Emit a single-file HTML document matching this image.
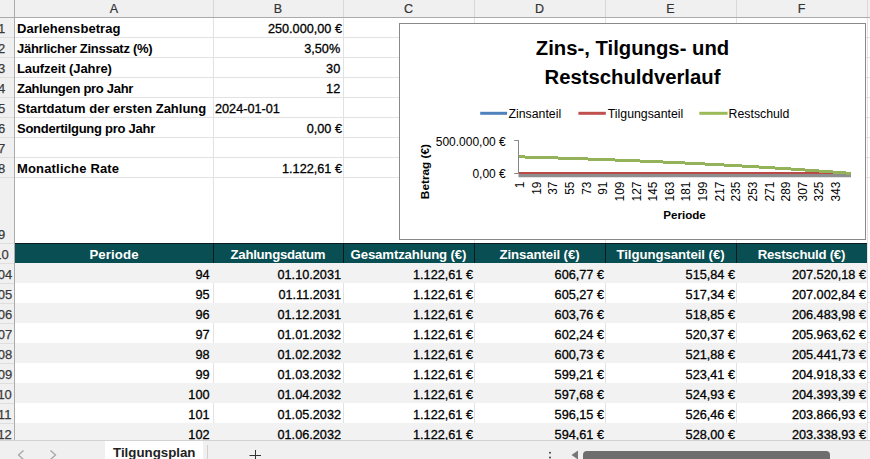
<!DOCTYPE html>
<html lang="de"><head><meta charset="utf-8"><title>Tilgungsplan</title>
<style>
*{margin:0;padding:0;box-sizing:border-box}
html,body{width:870px;height:459px;overflow:hidden;background:#fff}
body{position:relative;font-family:"Liberation Sans", sans-serif;font-size:13px;color:#000}
.a{position:absolute}
.hl{position:absolute;height:1px}
.vl{position:absolute;width:1px}
.c{position:absolute;height:20px;line-height:24px;white-space:nowrap;overflow:hidden}
.r{text-align:right;padding-right:1px}
.n{-webkit-text-stroke:0.3px #000;font-size:12.7px}
.l{text-align:left;padding-left:2px}
.b{font-weight:bold}
.th{position:absolute;top:244px;height:19px;line-height:21.5px;color:#fff;font-weight:bold;font-size:13.2px;text-align:center;white-space:nowrap}
.colh{position:absolute;top:0;height:17px;line-height:18px;text-align:center;color:#333;font-size:12.5px;-webkit-text-stroke:0.2px #333}
.rowh{position:absolute;left:-10px;width:23px;height:20px;line-height:23px;text-align:center;color:#3a3a3a;font-size:13px;-webkit-text-stroke:0.25px #3a3a3a}
</style></head>
<body>
<div class="hl" style="left:15px;width:860px;top:37px;background:#e2e2e2"></div>
<div class="hl" style="left:15px;width:860px;top:57px;background:#e2e2e2"></div>
<div class="hl" style="left:15px;width:860px;top:77px;background:#e2e2e2"></div>
<div class="hl" style="left:15px;width:860px;top:97px;background:#e2e2e2"></div>
<div class="hl" style="left:15px;width:860px;top:117px;background:#e2e2e2"></div>
<div class="hl" style="left:15px;width:860px;top:137px;background:#e2e2e2"></div>
<div class="hl" style="left:15px;width:860px;top:157px;background:#e2e2e2"></div>
<div class="hl" style="left:15px;width:860px;top:177px;background:#e2e2e2"></div>
<div class="vl" style="left:213px;top:18px;height:225px;background:#e2e2e2"></div>
<div class="vl" style="left:343px;top:18px;height:225px;background:#e2e2e2"></div>
<div class="vl" style="left:474px;top:18px;height:225px;background:#e2e2e2"></div>
<div class="vl" style="left:605px;top:18px;height:225px;background:#e2e2e2"></div>
<div class="vl" style="left:736px;top:18px;height:225px;background:#e2e2e2"></div>
<div class="vl" style="left:867px;top:18px;height:225px;background:#e2e2e2"></div>
<div class="a" style="left:15px;top:263px;width:852px;height:20px;background:#f2f2f2"></div>
<div class="vl" style="left:213px;top:283px;height:20px;background:#e2e2e2"></div>
<div class="vl" style="left:343px;top:283px;height:20px;background:#e2e2e2"></div>
<div class="vl" style="left:474px;top:283px;height:20px;background:#e2e2e2"></div>
<div class="vl" style="left:605px;top:283px;height:20px;background:#e2e2e2"></div>
<div class="vl" style="left:736px;top:283px;height:20px;background:#e2e2e2"></div>
<div class="vl" style="left:867px;top:283px;height:20px;background:#e2e2e2"></div>
<div class="hl" style="left:867px;width:10px;top:302px;background:#e2e2e2"></div>
<div class="a" style="left:15px;top:303px;width:852px;height:20px;background:#f2f2f2"></div>
<div class="vl" style="left:213px;top:323px;height:20px;background:#e2e2e2"></div>
<div class="vl" style="left:343px;top:323px;height:20px;background:#e2e2e2"></div>
<div class="vl" style="left:474px;top:323px;height:20px;background:#e2e2e2"></div>
<div class="vl" style="left:605px;top:323px;height:20px;background:#e2e2e2"></div>
<div class="vl" style="left:736px;top:323px;height:20px;background:#e2e2e2"></div>
<div class="vl" style="left:867px;top:323px;height:20px;background:#e2e2e2"></div>
<div class="hl" style="left:867px;width:10px;top:342px;background:#e2e2e2"></div>
<div class="a" style="left:15px;top:343px;width:852px;height:20px;background:#f2f2f2"></div>
<div class="vl" style="left:213px;top:363px;height:20px;background:#e2e2e2"></div>
<div class="vl" style="left:343px;top:363px;height:20px;background:#e2e2e2"></div>
<div class="vl" style="left:474px;top:363px;height:20px;background:#e2e2e2"></div>
<div class="vl" style="left:605px;top:363px;height:20px;background:#e2e2e2"></div>
<div class="vl" style="left:736px;top:363px;height:20px;background:#e2e2e2"></div>
<div class="vl" style="left:867px;top:363px;height:20px;background:#e2e2e2"></div>
<div class="hl" style="left:867px;width:10px;top:382px;background:#e2e2e2"></div>
<div class="a" style="left:15px;top:383px;width:852px;height:20px;background:#f2f2f2"></div>
<div class="vl" style="left:213px;top:403px;height:20px;background:#e2e2e2"></div>
<div class="vl" style="left:343px;top:403px;height:20px;background:#e2e2e2"></div>
<div class="vl" style="left:474px;top:403px;height:20px;background:#e2e2e2"></div>
<div class="vl" style="left:605px;top:403px;height:20px;background:#e2e2e2"></div>
<div class="vl" style="left:736px;top:403px;height:20px;background:#e2e2e2"></div>
<div class="vl" style="left:867px;top:403px;height:20px;background:#e2e2e2"></div>
<div class="hl" style="left:867px;width:10px;top:422px;background:#e2e2e2"></div>
<div class="a" style="left:15px;top:423px;width:852px;height:20px;background:#f2f2f2"></div>
<div class="vl" style="left:867px;top:18px;height:441px;background:#e2e2e2"></div>
<div class="a" style="left:0;top:0;width:870px;height:17px;background:#f0f0f0"></div>
<div class="hl" style="left:0;width:870px;top:17px;background:#ababab"></div>
<div class="vl" style="left:213px;top:0;height:17px;background:#d8d8d8"></div>
<div class="vl" style="left:343px;top:0;height:17px;background:#d8d8d8"></div>
<div class="vl" style="left:474px;top:0;height:17px;background:#d8d8d8"></div>
<div class="vl" style="left:605px;top:0;height:17px;background:#d8d8d8"></div>
<div class="vl" style="left:736px;top:0;height:17px;background:#d8d8d8"></div>
<div class="vl" style="left:867px;top:0;height:17px;background:#d8d8d8"></div>
<div class="colh" style="left:15px;width:198px">A</div>
<div class="colh" style="left:213px;width:130px">B</div>
<div class="colh" style="left:343px;width:131px">C</div>
<div class="colh" style="left:474px;width:131px">D</div>
<div class="colh" style="left:605px;width:131px">E</div>
<div class="colh" style="left:736px;width:131px">F</div>
<div class="a" style="left:0;top:18px;width:14px;height:441px;background:#f0f0f0"></div>
<div class="vl" style="left:14px;top:0;height:459px;background:#ababab"></div>
<div class="rowh" style="top:17px">1</div>
<div class="hl" style="left:0;width:14px;top:37px;background:#dedede"></div>
<div class="rowh" style="top:37px">2</div>
<div class="hl" style="left:0;width:14px;top:57px;background:#dedede"></div>
<div class="rowh" style="top:57px">3</div>
<div class="hl" style="left:0;width:14px;top:77px;background:#dedede"></div>
<div class="rowh" style="top:77px">4</div>
<div class="hl" style="left:0;width:14px;top:97px;background:#dedede"></div>
<div class="rowh" style="top:97px">5</div>
<div class="hl" style="left:0;width:14px;top:117px;background:#dedede"></div>
<div class="rowh" style="top:117px">6</div>
<div class="hl" style="left:0;width:14px;top:137px;background:#dedede"></div>
<div class="rowh" style="top:137px">7</div>
<div class="hl" style="left:0;width:14px;top:157px;background:#dedede"></div>
<div class="rowh" style="top:157px">8</div>
<div class="hl" style="left:0;width:14px;top:177px;background:#dedede"></div>
<div class="rowh" style="top:223px">9</div>
<div class="hl" style="left:0;width:14px;top:243px;background:#dedede"></div>
<div class="rowh" style="top:243px">10</div>
<div class="hl" style="left:0;width:14px;top:263px;background:#dedede"></div>
<div class="rowh" style="top:263px">104</div>
<div class="hl" style="left:0;width:14px;top:283px;background:#dedede"></div>
<div class="rowh" style="top:283px">105</div>
<div class="hl" style="left:0;width:14px;top:303px;background:#dedede"></div>
<div class="rowh" style="top:303px">106</div>
<div class="hl" style="left:0;width:14px;top:323px;background:#dedede"></div>
<div class="rowh" style="top:323px">107</div>
<div class="hl" style="left:0;width:14px;top:343px;background:#dedede"></div>
<div class="rowh" style="top:343px">108</div>
<div class="hl" style="left:0;width:14px;top:363px;background:#dedede"></div>
<div class="rowh" style="top:363px">109</div>
<div class="hl" style="left:0;width:14px;top:383px;background:#dedede"></div>
<div class="rowh" style="top:383px">110</div>
<div class="hl" style="left:0;width:14px;top:403px;background:#dedede"></div>
<div class="rowh" style="top:403px">111</div>
<div class="hl" style="left:0;width:14px;top:423px;background:#dedede"></div>
<div class="rowh" style="top:423px">112</div>
<div class="hl" style="left:0;width:14px;top:443px;background:#dedede"></div>
<div class="c l b" style="left:15px;top:17px;width:198px;letter-spacing:0.06px">Darlehensbetrag</div>
<div class="c r n" style="left:213px;top:17px;width:130px">250.000,00 €</div>
<div class="c l b" style="left:15px;top:37px;width:198px;letter-spacing:-0.27px">Jährlicher Zinssatz (%)</div>
<div class="c r n" style="left:213px;top:37px;width:130px;padding-right:2.8px">3,50%</div>
<div class="c l b" style="left:15px;top:57px;width:198px;letter-spacing:-0.08px">Laufzeit (Jahre)</div>
<div class="c r n" style="left:213px;top:57px;width:130px;padding-right:2.8px">30</div>
<div class="c l b" style="left:15px;top:77px;width:198px;letter-spacing:-0.29px">Zahlungen pro Jahr</div>
<div class="c r n" style="left:213px;top:77px;width:130px;padding-right:2.8px">12</div>
<div class="c l b" style="left:15px;top:97px;width:198px;letter-spacing:0px">Startdatum der ersten Zahlung</div>
<div class="c l n" style="left:213px;top:97px;width:130px">2024-01-01</div>
<div class="c l b" style="left:15px;top:117px;width:198px;letter-spacing:-0.26px">Sondertilgung pro Jahr</div>
<div class="c r n" style="left:213px;top:117px;width:130px">0,00 €</div>
<div class="c l b" style="left:15px;top:157px;width:198px;letter-spacing:0.17px">Monatliche Rate</div>
<div class="c r n" style="left:213px;top:157px;width:130px">1.122,61 €</div>
<div class="a" style="left:15px;top:243px;width:852px;height:20px;background:#084e52"></div>
<div class="hl" style="left:15px;width:852px;top:243px;background:#0a1a1c"></div>
<div class="vl" style="left:213px;top:243px;height:20px;background:#0a1a1c"></div>
<div class="vl" style="left:343px;top:243px;height:20px;background:#0a1a1c"></div>
<div class="vl" style="left:474px;top:243px;height:20px;background:#0a1a1c"></div>
<div class="vl" style="left:605px;top:243px;height:20px;background:#0a1a1c"></div>
<div class="vl" style="left:736px;top:243px;height:20px;background:#0a1a1c"></div>
<div class="th" style="left:15px;width:198px;letter-spacing:0.13px;text-indent:0.13px">Periode</div>
<div class="th" style="left:213px;width:130px;letter-spacing:-0.27px;text-indent:-0.27px">Zahlungsdatum</div>
<div class="th" style="left:343px;width:131px;letter-spacing:-0.13px;text-indent:-0.13px">Gesamtzahlung (€)</div>
<div class="th" style="left:474px;width:131px;letter-spacing:-0.1px;text-indent:-0.1px">Zinsanteil (€)</div>
<div class="th" style="left:605px;width:131px;letter-spacing:-0.04px;text-indent:-0.04px">Tilgungsanteil (€)</div>
<div class="th" style="left:736px;width:131px;letter-spacing:-0.25px;text-indent:-0.25px">Restschuld (€)</div>
<div class="c r n" style="left:15px;top:263px;width:198px ;padding-right:3.5px">94</div>
<div class="c r n" style="left:213px;top:263px;width:130px;padding-right:2px">01.10.2031</div>
<div class="c r n" style="left:343px;top:263px;width:131px">1.122,61 €</div>
<div class="c r n" style="left:474px;top:263px;width:131px">606,77 €</div>
<div class="c r n" style="left:605px;top:263px;width:131px">515,84 €</div>
<div class="c r n" style="left:736px;top:263px;width:131px">207.520,18 €</div>
<div class="c r n" style="left:15px;top:283px;width:198px ;padding-right:3.5px">95</div>
<div class="c r n" style="left:213px;top:283px;width:130px;padding-right:2px">01.11.2031</div>
<div class="c r n" style="left:343px;top:283px;width:131px">1.122,61 €</div>
<div class="c r n" style="left:474px;top:283px;width:131px">605,27 €</div>
<div class="c r n" style="left:605px;top:283px;width:131px">517,34 €</div>
<div class="c r n" style="left:736px;top:283px;width:131px">207.002,84 €</div>
<div class="c r n" style="left:15px;top:303px;width:198px ;padding-right:3.5px">96</div>
<div class="c r n" style="left:213px;top:303px;width:130px;padding-right:2px">01.12.2031</div>
<div class="c r n" style="left:343px;top:303px;width:131px">1.122,61 €</div>
<div class="c r n" style="left:474px;top:303px;width:131px">603,76 €</div>
<div class="c r n" style="left:605px;top:303px;width:131px">518,85 €</div>
<div class="c r n" style="left:736px;top:303px;width:131px">206.483,98 €</div>
<div class="c r n" style="left:15px;top:323px;width:198px ;padding-right:3.5px">97</div>
<div class="c r n" style="left:213px;top:323px;width:130px;padding-right:2px">01.01.2032</div>
<div class="c r n" style="left:343px;top:323px;width:131px">1.122,61 €</div>
<div class="c r n" style="left:474px;top:323px;width:131px">602,24 €</div>
<div class="c r n" style="left:605px;top:323px;width:131px">520,37 €</div>
<div class="c r n" style="left:736px;top:323px;width:131px">205.963,62 €</div>
<div class="c r n" style="left:15px;top:343px;width:198px ;padding-right:3.5px">98</div>
<div class="c r n" style="left:213px;top:343px;width:130px;padding-right:2px">01.02.2032</div>
<div class="c r n" style="left:343px;top:343px;width:131px">1.122,61 €</div>
<div class="c r n" style="left:474px;top:343px;width:131px">600,73 €</div>
<div class="c r n" style="left:605px;top:343px;width:131px">521,88 €</div>
<div class="c r n" style="left:736px;top:343px;width:131px">205.441,73 €</div>
<div class="c r n" style="left:15px;top:363px;width:198px ;padding-right:3.5px">99</div>
<div class="c r n" style="left:213px;top:363px;width:130px;padding-right:2px">01.03.2032</div>
<div class="c r n" style="left:343px;top:363px;width:131px">1.122,61 €</div>
<div class="c r n" style="left:474px;top:363px;width:131px">599,21 €</div>
<div class="c r n" style="left:605px;top:363px;width:131px">523,41 €</div>
<div class="c r n" style="left:736px;top:363px;width:131px">204.918,33 €</div>
<div class="c r n" style="left:15px;top:383px;width:198px ;padding-right:3.5px">100</div>
<div class="c r n" style="left:213px;top:383px;width:130px;padding-right:2px">01.04.2032</div>
<div class="c r n" style="left:343px;top:383px;width:131px">1.122,61 €</div>
<div class="c r n" style="left:474px;top:383px;width:131px">597,68 €</div>
<div class="c r n" style="left:605px;top:383px;width:131px">524,93 €</div>
<div class="c r n" style="left:736px;top:383px;width:131px">204.393,39 €</div>
<div class="c r n" style="left:15px;top:403px;width:198px ;padding-right:3.5px">101</div>
<div class="c r n" style="left:213px;top:403px;width:130px;padding-right:2px">01.05.2032</div>
<div class="c r n" style="left:343px;top:403px;width:131px">1.122,61 €</div>
<div class="c r n" style="left:474px;top:403px;width:131px">596,15 €</div>
<div class="c r n" style="left:605px;top:403px;width:131px">526,46 €</div>
<div class="c r n" style="left:736px;top:403px;width:131px">203.866,93 €</div>
<div class="c r n" style="left:15px;top:423px;width:198px ;padding-right:3.5px">102</div>
<div class="c r n" style="left:213px;top:423px;width:130px;padding-right:2px">01.06.2032</div>
<div class="c r n" style="left:343px;top:423px;width:131px">1.122,61 €</div>
<div class="c r n" style="left:474px;top:423px;width:131px">594,61 €</div>
<div class="c r n" style="left:605px;top:423px;width:131px">528,00 €</div>
<div class="c r n" style="left:736px;top:423px;width:131px">203.338,93 €</div>
<svg class="a" style="left:399px;top:23px" width="467" height="217" viewBox="0 0 467 217" font-family='"Liberation Sans", sans-serif'><rect x="0.5" y="0.5" width="466" height="216" fill="#fff" stroke="#898989" stroke-width="1"/><text x="233.5" y="32.3" text-anchor="middle" font-size="20.3" font-weight="bold" fill="#000">Zins-, Tilgungs- und</text><text x="233.5" y="61.4" text-anchor="middle" font-size="20.3" font-weight="bold" fill="#000">Restschuldverlauf</text><line x1="81.19999999999999" y1="90.3" x2="108.10000000000002" y2="90.3" stroke="#4f81bd" stroke-width="3"/><text x="109.5" y="94.6" font-size="12.3" fill="#000">Zinsanteil</text><line x1="179.39999999999998" y1="90.3" x2="206.79999999999995" y2="90.3" stroke="#c0504d" stroke-width="3"/><text x="208.79999999999995" y="94.6" font-size="12.3" fill="#000">Tilgungsanteil</text><line x1="300.29999999999995" y1="90.3" x2="328.6" y2="90.3" stroke="#9bbb59" stroke-width="3"/><text x="329.6" y="94.6" font-size="12.3" fill="#000">Restschuld</text><line x1="119.5" y1="117.19999999999999" x2="119.5" y2="150.9" stroke="#868686" stroke-width="1"/><line x1="115.20000000000005" y1="117.5" x2="119.5" y2="117.5" stroke="#868686" stroke-width="1"/><line x1="115.20000000000005" y1="150.5" x2="119.5" y2="150.5" stroke="#868686" stroke-width="1"/><line x1="119.5" y1="152.6" x2="452" y2="152.6" stroke="#8e8e8e" stroke-width="3.2"/><polyline points="119.96,149.85 120.89,149.85 121.81,149.85 122.73,149.85 123.66,149.85 124.58,149.85 125.50,149.85 126.43,149.85 127.35,149.85 128.27,149.85 129.20,149.85 130.12,149.85 131.05,149.85 131.97,149.85 132.89,149.85 133.82,149.85 134.74,149.85 135.66,149.85 136.59,149.85 137.51,149.85 138.43,149.85 139.36,149.85 140.28,149.85 141.20,149.85 142.13,149.85 143.05,149.85 143.98,149.85 144.90,149.85 145.82,149.85 146.75,149.85 147.67,149.85 148.59,149.85 149.52,149.85 150.44,149.85 151.36,149.85 152.29,149.85 153.21,149.85 154.14,149.85 155.06,149.85 155.98,149.85 156.91,149.85 157.83,149.85 158.75,149.85 159.68,149.86 160.60,149.86 161.52,149.86 162.45,149.86 163.37,149.86 164.30,149.86 165.22,149.86 166.14,149.86 167.07,149.86 167.99,149.86 168.91,149.86 169.84,149.86 170.76,149.86 171.68,149.86 172.61,149.86 173.53,149.86 174.45,149.86 175.38,149.86 176.30,149.86 177.23,149.86 178.15,149.86 179.07,149.86 180.00,149.86 180.92,149.86 181.84,149.86 182.77,149.86 183.69,149.86 184.61,149.86 185.54,149.86 186.46,149.86 187.39,149.86 188.31,149.86 189.23,149.86 190.16,149.86 191.08,149.86 192.00,149.86 192.93,149.86 193.85,149.86 194.77,149.86 195.70,149.86 196.62,149.86 197.55,149.86 198.47,149.86 199.39,149.86 200.32,149.86 201.24,149.86 202.16,149.86 203.09,149.86 204.01,149.86 204.93,149.86 205.86,149.86 206.78,149.86 207.70,149.86 208.63,149.86 209.55,149.86 210.48,149.86 211.40,149.86 212.32,149.86 213.25,149.86 214.17,149.86 215.09,149.86 216.02,149.86 216.94,149.86 217.86,149.86 218.79,149.86 219.71,149.86 220.64,149.86 221.56,149.86 222.48,149.86 223.41,149.86 224.33,149.86 225.25,149.86 226.18,149.86 227.10,149.86 228.02,149.86 228.95,149.86 229.87,149.86 230.80,149.86 231.72,149.86 232.64,149.86 233.57,149.86 234.49,149.86 235.41,149.86 236.34,149.86 237.26,149.86 238.18,149.86 239.11,149.86 240.03,149.86 240.95,149.86 241.88,149.86 242.80,149.86 243.73,149.86 244.65,149.86 245.57,149.86 246.50,149.86 247.42,149.86 248.34,149.86 249.27,149.86 250.19,149.86 251.11,149.86 252.04,149.87 252.96,149.87 253.89,149.87 254.81,149.87 255.73,149.87 256.66,149.87 257.58,149.87 258.50,149.87 259.43,149.87 260.35,149.87 261.27,149.87 262.20,149.87 263.12,149.87 264.05,149.87 264.97,149.87 265.89,149.87 266.82,149.87 267.74,149.87 268.66,149.87 269.59,149.87 270.51,149.87 271.43,149.87 272.36,149.87 273.28,149.87 274.20,149.87 275.13,149.87 276.05,149.87 276.98,149.87 277.90,149.87 278.82,149.87 279.75,149.87 280.67,149.87 281.59,149.87 282.52,149.87 283.44,149.87 284.36,149.87 285.29,149.87 286.21,149.87 287.14,149.87 288.06,149.87 288.98,149.87 289.91,149.87 290.83,149.87 291.75,149.87 292.68,149.87 293.60,149.87 294.52,149.87 295.45,149.87 296.37,149.87 297.30,149.87 298.22,149.87 299.14,149.87 300.07,149.87 300.99,149.87 301.91,149.87 302.84,149.87 303.76,149.87 304.68,149.87 305.61,149.87 306.53,149.87 307.45,149.87 308.38,149.87 309.30,149.87 310.23,149.87 311.15,149.87 312.07,149.87 313.00,149.87 313.92,149.87 314.84,149.87 315.77,149.87 316.69,149.87 317.61,149.87 318.54,149.87 319.46,149.87 320.39,149.87 321.31,149.87 322.23,149.87 323.16,149.88 324.08,149.88 325.00,149.88 325.93,149.88 326.85,149.88 327.77,149.88 328.70,149.88 329.62,149.88 330.55,149.88 331.47,149.88 332.39,149.88 333.32,149.88 334.24,149.88 335.16,149.88 336.09,149.88 337.01,149.88 337.93,149.88 338.86,149.88 339.78,149.88 340.70,149.88 341.63,149.88 342.55,149.88 343.48,149.88 344.40,149.88 345.32,149.88 346.25,149.88 347.17,149.88 348.09,149.88 349.02,149.88 349.94,149.88 350.86,149.88 351.79,149.88 352.71,149.88 353.64,149.88 354.56,149.88 355.48,149.88 356.41,149.88 357.33,149.88 358.25,149.88 359.18,149.88 360.10,149.88 361.02,149.88 361.95,149.88 362.87,149.88 363.80,149.88 364.72,149.88 365.64,149.88 366.57,149.88 367.49,149.88 368.41,149.88 369.34,149.88 370.26,149.88 371.18,149.88 372.11,149.88 373.03,149.88 373.95,149.88 374.88,149.88 375.80,149.88 376.73,149.88 377.65,149.88 378.57,149.88 379.50,149.88 380.42,149.88 381.34,149.89 382.27,149.89 383.19,149.89 384.11,149.89 385.04,149.89 385.96,149.89 386.89,149.89 387.81,149.89 388.73,149.89 389.66,149.89 390.58,149.89 391.50,149.89 392.43,149.89 393.35,149.89 394.27,149.89 395.20,149.89 396.12,149.89 397.05,149.89 397.97,149.89 398.89,149.89 399.82,149.89 400.74,149.89 401.66,149.89 402.59,149.89 403.51,149.89 404.43,149.89 405.36,149.89 406.28,149.89 407.20,149.89 408.13,149.89 409.05,149.89 409.98,149.89 410.90,149.89 411.82,149.89 412.75,149.89 413.67,149.89 414.59,149.89 415.52,149.89 416.44,149.89 417.36,149.89 418.29,149.89 419.21,149.89 420.14,149.89 421.06,149.89 421.98,149.89 422.91,149.89 423.83,149.89 424.75,149.89 425.68,149.89 426.60,149.89 427.52,149.89 428.45,149.89 429.37,149.89 430.30,149.89 431.22,149.90 432.14,149.90 433.07,149.90 433.99,149.90 434.91,149.90 435.84,149.90 436.76,149.90 437.68,149.90 438.61,149.90 439.53,149.90 440.45,149.90 441.38,149.90 442.30,149.90 443.23,149.90 444.15,149.90 445.07,149.90 446.00,149.90 446.92,149.90 447.84,149.90 448.77,149.90 449.69,149.90 450.61,149.90 451.54,149.90" fill="none" stroke="#4f81bd" stroke-width="2.3" stroke-linejoin="round" shape-rendering="crispEdges"/><polyline points="119.96,149.87 120.89,149.87 121.81,149.87 122.73,149.87 123.66,149.87 124.58,149.87 125.50,149.87 126.43,149.87 127.35,149.87 128.27,149.87 129.20,149.87 130.12,149.87 131.05,149.87 131.97,149.87 132.89,149.87 133.82,149.87 134.74,149.87 135.66,149.87 136.59,149.87 137.51,149.87 138.43,149.87 139.36,149.87 140.28,149.87 141.20,149.87 142.13,149.87 143.05,149.87 143.98,149.87 144.90,149.87 145.82,149.87 146.75,149.87 147.67,149.87 148.59,149.87 149.52,149.87 150.44,149.87 151.36,149.87 152.29,149.87 153.21,149.87 154.14,149.87 155.06,149.87 155.98,149.87 156.91,149.87 157.83,149.87 158.75,149.87 159.68,149.87 160.60,149.87 161.52,149.87 162.45,149.87 163.37,149.87 164.30,149.87 165.22,149.87 166.14,149.87 167.07,149.87 167.99,149.87 168.91,149.87 169.84,149.87 170.76,149.87 171.68,149.87 172.61,149.87 173.53,149.87 174.45,149.87 175.38,149.87 176.30,149.87 177.23,149.87 178.15,149.87 179.07,149.87 180.00,149.87 180.92,149.87 181.84,149.87 182.77,149.87 183.69,149.87 184.61,149.87 185.54,149.87 186.46,149.87 187.39,149.87 188.31,149.87 189.23,149.87 190.16,149.87 191.08,149.87 192.00,149.87 192.93,149.87 193.85,149.87 194.77,149.87 195.70,149.87 196.62,149.87 197.55,149.87 198.47,149.87 199.39,149.87 200.32,149.87 201.24,149.87 202.16,149.87 203.09,149.87 204.01,149.87 204.93,149.87 205.86,149.87 206.78,149.87 207.70,149.87 208.63,149.87 209.55,149.87 210.48,149.87 211.40,149.87 212.32,149.87 213.25,149.86 214.17,149.86 215.09,149.86 216.02,149.86 216.94,149.86 217.86,149.86 218.79,149.86 219.71,149.86 220.64,149.86 221.56,149.86 222.48,149.86 223.41,149.86 224.33,149.86 225.25,149.86 226.18,149.86 227.10,149.86 228.02,149.86 228.95,149.86 229.87,149.86 230.80,149.86 231.72,149.86 232.64,149.86 233.57,149.86 234.49,149.86 235.41,149.86 236.34,149.86 237.26,149.86 238.18,149.86 239.11,149.86 240.03,149.86 240.95,149.86 241.88,149.86 242.80,149.86 243.73,149.86 244.65,149.86 245.57,149.86 246.50,149.86 247.42,149.86 248.34,149.86 249.27,149.86 250.19,149.86 251.11,149.86 252.04,149.86 252.96,149.86 253.89,149.86 254.81,149.86 255.73,149.86 256.66,149.86 257.58,149.86 258.50,149.86 259.43,149.86 260.35,149.86 261.27,149.86 262.20,149.86 263.12,149.86 264.05,149.86 264.97,149.86 265.89,149.86 266.82,149.86 267.74,149.86 268.66,149.86 269.59,149.86 270.51,149.86 271.43,149.86 272.36,149.86 273.28,149.86 274.20,149.86 275.13,149.86 276.05,149.86 276.98,149.86 277.90,149.86 278.82,149.86 279.75,149.86 280.67,149.86 281.59,149.86 282.52,149.86 283.44,149.86 284.36,149.86 285.29,149.86 286.21,149.86 287.14,149.86 288.06,149.86 288.98,149.86 289.91,149.86 290.83,149.86 291.75,149.86 292.68,149.85 293.60,149.85 294.52,149.85 295.45,149.85 296.37,149.85 297.30,149.85 298.22,149.85 299.14,149.85 300.07,149.85 300.99,149.85 301.91,149.85 302.84,149.85 303.76,149.85 304.68,149.85 305.61,149.85 306.53,149.85 307.45,149.85 308.38,149.85 309.30,149.85 310.23,149.85 311.15,149.85 312.07,149.85 313.00,149.85 313.92,149.85 314.84,149.85 315.77,149.85 316.69,149.85 317.61,149.85 318.54,149.85 319.46,149.85 320.39,149.85 321.31,149.85 322.23,149.85 323.16,149.85 324.08,149.85 325.00,149.85 325.93,149.85 326.85,149.85 327.77,149.85 328.70,149.85 329.62,149.85 330.55,149.85 331.47,149.85 332.39,149.85 333.32,149.85 334.24,149.85 335.16,149.85 336.09,149.85 337.01,149.85 337.93,149.85 338.86,149.85 339.78,149.85 340.70,149.85 341.63,149.85 342.55,149.85 343.48,149.85 344.40,149.85 345.32,149.85 346.25,149.85 347.17,149.85 348.09,149.85 349.02,149.85 349.94,149.85 350.86,149.85 351.79,149.85 352.71,149.85 353.64,149.85 354.56,149.85 355.48,149.85 356.41,149.84 357.33,149.84 358.25,149.84 359.18,149.84 360.10,149.84 361.02,149.84 361.95,149.84 362.87,149.84 363.80,149.84 364.72,149.84 365.64,149.84 366.57,149.84 367.49,149.84 368.41,149.84 369.34,149.84 370.26,149.84 371.18,149.84 372.11,149.84 373.03,149.84 373.95,149.84 374.88,149.84 375.80,149.84 376.73,149.84 377.65,149.84 378.57,149.84 379.50,149.84 380.42,149.84 381.34,149.84 382.27,149.84 383.19,149.84 384.11,149.84 385.04,149.84 385.96,149.84 386.89,149.84 387.81,149.84 388.73,149.84 389.66,149.84 390.58,149.84 391.50,149.84 392.43,149.84 393.35,149.84 394.27,149.84 395.20,149.84 396.12,149.84 397.05,149.84 397.97,149.84 398.89,149.84 399.82,149.84 400.74,149.84 401.66,149.84 402.59,149.84 403.51,149.84 404.43,149.84 405.36,149.84 406.28,149.84 407.20,149.84 408.13,149.84 409.05,149.83 409.98,149.83 410.90,149.83 411.82,149.83 412.75,149.83 413.67,149.83 414.59,149.83 415.52,149.83 416.44,149.83 417.36,149.83 418.29,149.83 419.21,149.83 420.14,149.83 421.06,149.83 421.98,149.83 422.91,149.83 423.83,149.83 424.75,149.83 425.68,149.83 426.60,149.83 427.52,149.83 428.45,149.83 429.37,149.83 430.30,149.83 431.22,149.83 432.14,149.83 433.07,149.83 433.99,149.83 434.91,149.83 435.84,149.83 436.76,149.83 437.68,149.83 438.61,149.83 439.53,149.83 440.45,149.83 441.38,149.83 442.30,149.83 443.23,149.83 444.15,149.83 445.07,149.83 446.00,149.83 446.92,149.83 447.84,149.83 448.77,149.83 449.69,149.83 450.61,149.83 451.54,149.83" fill="none" stroke="#b94a48" stroke-width="2.3" stroke-linejoin="round" shape-rendering="crispEdges"/><polyline points="119.96,133.83 120.89,133.85 121.81,133.88 122.73,133.90 123.66,133.93 124.58,133.96 125.50,133.98 126.43,134.01 127.35,134.04 128.27,134.06 129.20,134.09 130.12,134.12 131.05,134.15 131.97,134.17 132.89,134.20 133.82,134.23 134.74,134.25 135.66,134.28 136.59,134.31 137.51,134.34 138.43,134.36 139.36,134.39 140.28,134.42 141.20,134.45 142.13,134.48 143.05,134.50 143.98,134.53 144.90,134.56 145.82,134.59 146.75,134.62 147.67,134.65 148.59,134.67 149.52,134.70 150.44,134.73 151.36,134.76 152.29,134.79 153.21,134.82 154.14,134.85 155.06,134.88 155.98,134.91 156.91,134.94 157.83,134.97 158.75,134.99 159.68,135.02 160.60,135.05 161.52,135.08 162.45,135.11 163.37,135.14 164.30,135.17 165.22,135.20 166.14,135.23 167.07,135.26 167.99,135.30 168.91,135.33 169.84,135.36 170.76,135.39 171.68,135.42 172.61,135.45 173.53,135.48 174.45,135.51 175.38,135.54 176.30,135.57 177.23,135.60 178.15,135.64 179.07,135.67 180.00,135.70 180.92,135.73 181.84,135.76 182.77,135.79 183.69,135.83 184.61,135.86 185.54,135.89 186.46,135.92 187.39,135.95 188.31,135.99 189.23,136.02 190.16,136.05 191.08,136.08 192.00,136.12 192.93,136.15 193.85,136.18 194.77,136.22 195.70,136.25 196.62,136.28 197.55,136.32 198.47,136.35 199.39,136.38 200.32,136.42 201.24,136.45 202.16,136.48 203.09,136.52 204.01,136.55 204.93,136.59 205.86,136.62 206.78,136.66 207.70,136.69 208.63,136.72 209.55,136.76 210.48,136.79 211.40,136.83 212.32,136.86 213.25,136.90 214.17,136.93 215.09,136.97 216.02,137.00 216.94,137.04 217.86,137.08 218.79,137.11 219.71,137.15 220.64,137.18 221.56,137.22 222.48,137.25 223.41,137.29 224.33,137.33 225.25,137.36 226.18,137.40 227.10,137.44 228.02,137.47 228.95,137.51 229.87,137.55 230.80,137.58 231.72,137.62 232.64,137.66 233.57,137.70 234.49,137.73 235.41,137.77 236.34,137.81 237.26,137.85 238.18,137.88 239.11,137.92 240.03,137.96 240.95,138.00 241.88,138.04 242.80,138.08 243.73,138.11 244.65,138.15 245.57,138.19 246.50,138.23 247.42,138.27 248.34,138.31 249.27,138.35 250.19,138.39 251.11,138.43 252.04,138.47 252.96,138.51 253.89,138.55 254.81,138.59 255.73,138.63 256.66,138.67 257.58,138.71 258.50,138.75 259.43,138.79 260.35,138.83 261.27,138.87 262.20,138.91 263.12,138.95 264.05,138.99 264.97,139.03 265.89,139.08 266.82,139.12 267.74,139.16 268.66,139.20 269.59,139.24 270.51,139.28 271.43,139.33 272.36,139.37 273.28,139.41 274.20,139.45 275.13,139.50 276.05,139.54 276.98,139.58 277.90,139.62 278.82,139.67 279.75,139.71 280.67,139.75 281.59,139.80 282.52,139.84 283.44,139.89 284.36,139.93 285.29,139.97 286.21,140.02 287.14,140.06 288.06,140.11 288.98,140.15 289.91,140.19 290.83,140.24 291.75,140.28 292.68,140.33 293.60,140.37 294.52,140.42 295.45,140.47 296.37,140.51 297.30,140.56 298.22,140.60 299.14,140.65 300.07,140.69 300.99,140.74 301.91,140.79 302.84,140.83 303.76,140.88 304.68,140.93 305.61,140.97 306.53,141.02 307.45,141.07 308.38,141.12 309.30,141.16 310.23,141.21 311.15,141.26 312.07,141.31 313.00,141.35 313.92,141.40 314.84,141.45 315.77,141.50 316.69,141.55 317.61,141.60 318.54,141.65 319.46,141.69 320.39,141.74 321.31,141.79 322.23,141.84 323.16,141.89 324.08,141.94 325.00,141.99 325.93,142.04 326.85,142.09 327.77,142.14 328.70,142.19 329.62,142.24 330.55,142.29 331.47,142.34 332.39,142.40 333.32,142.45 334.24,142.50 335.16,142.55 336.09,142.60 337.01,142.65 337.93,142.71 338.86,142.76 339.78,142.81 340.70,142.86 341.63,142.91 342.55,142.97 343.48,143.02 344.40,143.07 345.32,143.13 346.25,143.18 347.17,143.23 348.09,143.29 349.02,143.34 349.94,143.39 350.86,143.45 351.79,143.50 352.71,143.56 353.64,143.61 354.56,143.67 355.48,143.72 356.41,143.78 357.33,143.83 358.25,143.89 359.18,143.94 360.10,144.00 361.02,144.05 361.95,144.11 362.87,144.17 363.80,144.22 364.72,144.28 365.64,144.34 366.57,144.39 367.49,144.45 368.41,144.51 369.34,144.56 370.26,144.62 371.18,144.68 372.11,144.74 373.03,144.80 373.95,144.85 374.88,144.91 375.80,144.97 376.73,145.03 377.65,145.09 378.57,145.15 379.50,145.21 380.42,145.27 381.34,145.33 382.27,145.39 383.19,145.45 384.11,145.51 385.04,145.57 385.96,145.63 386.89,145.69 387.81,145.75 388.73,145.81 389.66,145.87 390.58,145.93 391.50,145.99 392.43,146.05 393.35,146.12 394.27,146.18 395.20,146.24 396.12,146.30 397.05,146.37 397.97,146.43 398.89,146.49 399.82,146.55 400.74,146.62 401.66,146.68 402.59,146.74 403.51,146.81 404.43,146.87 405.36,146.94 406.28,147.00 407.20,147.07 408.13,147.13 409.05,147.20 409.98,147.26 410.90,147.33 411.82,147.39 412.75,147.46 413.67,147.52 414.59,147.59 415.52,147.66 416.44,147.72 417.36,147.79 418.29,147.86 419.21,147.92 420.14,147.99 421.06,148.06 421.98,148.13 422.91,148.19 423.83,148.26 424.75,148.33 425.68,148.40 426.60,148.47 427.52,148.54 428.45,148.61 429.37,148.67 430.30,148.74 431.22,148.81 432.14,148.88 433.07,148.95 433.99,149.02 434.91,149.09 435.84,149.17 436.76,149.24 437.68,149.31 438.61,149.38 439.53,149.45 440.45,149.52 441.38,149.59 442.30,149.67 443.23,149.74 444.15,149.81 445.07,149.88 446.00,149.96 446.92,150.03 447.84,150.10 448.77,150.18 449.69,150.25 450.61,150.33 451.54,150.40" fill="none" stroke="#94b25a" stroke-width="3" stroke-linejoin="round" shape-rendering="crispEdges"/><text x="106.80000000000001" y="118.30000000000001" dy="4.2" text-anchor="end" font-size="12" fill="#000">500.000,00 €</text><text x="106.80000000000001" y="150.4" dy="4.2" text-anchor="end" font-size="12" fill="#000">0,00 €</text><text transform="translate(120.96,158.6) rotate(-90)" dy="4.2" text-anchor="end" font-size="11.9" fill="#000">1</text><text transform="translate(137.59,158.6) rotate(-90)" dy="4.2" text-anchor="end" font-size="11.9" fill="#000">19</text><text transform="translate(154.21,158.6) rotate(-90)" dy="4.2" text-anchor="end" font-size="11.9" fill="#000">37</text><text transform="translate(170.84,158.6) rotate(-90)" dy="4.2" text-anchor="end" font-size="11.9" fill="#000">55</text><text transform="translate(187.46,158.6) rotate(-90)" dy="4.2" text-anchor="end" font-size="11.9" fill="#000">73</text><text transform="translate(204.09,158.6) rotate(-90)" dy="4.2" text-anchor="end" font-size="11.9" fill="#000">91</text><text transform="translate(220.71,158.6) rotate(-90)" dy="4.2" text-anchor="end" font-size="11.9" fill="#000">109</text><text transform="translate(237.34,158.6) rotate(-90)" dy="4.2" text-anchor="end" font-size="11.9" fill="#000">127</text><text transform="translate(253.96,158.6) rotate(-90)" dy="4.2" text-anchor="end" font-size="11.9" fill="#000">145</text><text transform="translate(270.59,158.6) rotate(-90)" dy="4.2" text-anchor="end" font-size="11.9" fill="#000">163</text><text transform="translate(287.21,158.6) rotate(-90)" dy="4.2" text-anchor="end" font-size="11.9" fill="#000">181</text><text transform="translate(303.84,158.6) rotate(-90)" dy="4.2" text-anchor="end" font-size="11.9" fill="#000">199</text><text transform="translate(320.46,158.6) rotate(-90)" dy="4.2" text-anchor="end" font-size="11.9" fill="#000">217</text><text transform="translate(337.09,158.6) rotate(-90)" dy="4.2" text-anchor="end" font-size="11.9" fill="#000">235</text><text transform="translate(353.71,158.6) rotate(-90)" dy="4.2" text-anchor="end" font-size="11.9" fill="#000">253</text><text transform="translate(370.34,158.6) rotate(-90)" dy="4.2" text-anchor="end" font-size="11.9" fill="#000">271</text><text transform="translate(386.96,158.6) rotate(-90)" dy="4.2" text-anchor="end" font-size="11.9" fill="#000">289</text><text transform="translate(403.59,158.6) rotate(-90)" dy="4.2" text-anchor="end" font-size="11.9" fill="#000">307</text><text transform="translate(420.21,158.6) rotate(-90)" dy="4.2" text-anchor="end" font-size="11.9" fill="#000">325</text><text transform="translate(436.84,158.6) rotate(-90)" dy="4.2" text-anchor="end" font-size="11.9" fill="#000">343</text><text transform="translate(29.80000000000001,148.6) rotate(-90)" text-anchor="middle" font-size="11.8" font-weight="bold" fill="#000">Betrag (€)</text><text x="285.5" y="195.8" text-anchor="middle" font-size="11.6" font-weight="bold" fill="#000">Periode</text></svg>
<div class="a" style="left:0;top:440px;width:870px;height:19px;background:#f0f0f0"></div>
<div class="hl" style="left:0;width:870px;top:440px;background:#d2d2d2"></div>
<svg class="a" style="left:0;top:440px" width="870" height="19"><polyline points="23.5,10.5 18.5,15 23.5,19.5" fill="none" stroke="#a6a6a6" stroke-width="1.3"/><polyline points="50.5,10.5 55.5,15 50.5,19.5" fill="none" stroke="#a6a6a6" stroke-width="1.3"/><line x1="207.5" y1="5" x2="207.5" y2="19" stroke="#d0d0d0"/><line x1="249.5" y1="15.5" x2="261" y2="15.5" stroke="#333" stroke-width="1"/><line x1="255.5" y1="10" x2="255.5" y2="21.5" stroke="#333" stroke-width="1"/><circle cx="550" cy="12.7" r="1" fill="#444"/><circle cx="550" cy="17.5" r="1" fill="#444"/><polygon points="578,10.5 578,19.5 571.5,15" fill="#777"/><rect x="583" y="11" width="247" height="14" rx="4" fill="#6e6e6e"/></svg>
<div class="a" style="left:105px;top:441px;width:98px;height:18px;background:#fff"></div>
<div class="a b" style="left:113px;top:441px;height:18px;line-height:18px;font-size:13.3px;color:#222;padding-top:2.5px">Tilgungsplan</div>
</body></html>
